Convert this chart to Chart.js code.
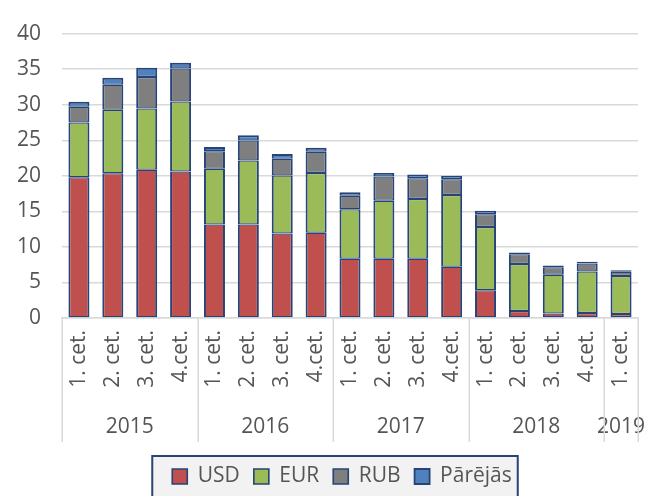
<!DOCTYPE html>
<html>
<head>
<meta charset="utf-8">
<script src="https://cdn.jsdelivr.net/npm/chart.js@4"></script>
<style>
  html, body { margin: 0; padding: 0; background: #ffffff; }
  #wrap { width: 659px; height: 496px; position: relative; }
</style>
</head>
<body>
<div id="wrap"><canvas id="c" width="659" height="496"></canvas></div>
<script>
// ---- data ----
const quarters = ["1. cet.", "2. cet.", "3. cet.", "4.cet.",
                  "1. cet.", "2. cet.", "3. cet.", "4.cet.",
                  "1. cet.", "2. cet.", "3. cet.", "4.cet.",
                  "1. cet.", "2. cet.", "3. cet.", "4.cet.",
                  "1. cet."];
const years = ["2015", "2016", "2017", "2018", "2019"];
const yearSizes = [4, 4, 4, 4, 1];
const usd    = [19.8, 20.35, 20.85, 20.6, 13.15, 13.15, 11.9, 12.0, 8.35, 8.35, 8.35, 7.2, 3.9, 1.0, 0.65, 0.7, 0.55];
const eur    = [7.7, 8.95, 8.6, 9.85, 7.85, 9.0, 8.15, 8.4, 6.95, 8.15, 8.4, 10.1, 8.9, 6.6, 5.45, 5.85, 5.35];
const rub    = [2.2, 3.5, 4.45, 4.65, 2.45, 2.8, 2.35, 3.0, 1.9, 3.4, 2.9, 2.2, 1.8, 1.35, 1.05, 1.1, 0.6];
const other  = [0.7, 1.0, 1.3, 0.8, 0.6, 0.75, 0.65, 0.55, 0.5, 0.5, 0.55, 0.5, 0.5, 0.25, 0.25, 0.25, 0.2];
const seriesNames = ["USD", "EUR", "RUB", "Pārējās"];
const yTicks = [0, 5, 10, 15, 20, 25, 30, 35, 40];

// ---- styles ----
const FONT = "'Open Sans', 'DejaVu Sans', sans-serif";
const FS = 21;
const TEXT = '#555555';
const GRID = '#d9d9d9';
const EDGE = '#264478';
const colors = ['#C0504D', '#9BBB59', '#7F7F7F', '#4F81BD'];
const seriesData = [usd, eur, rub, other];

const datasets = seriesData.map((d, i) => ({
  label: seriesNames[i],
  data: d,
  backgroundColor: colors[i],
  borderColor: EDGE,
  borderWidth: { left: 2, right: 2, top: i === 3 ? 2 : 1.25, bottom: 1.25 },
  borderSkipped: false,
  barPercentage: 0.62,
  categoryPercentage: 1.0
}));

const decorPlugin = {
  id: 'decor',
  afterLayout(chart) {
    const lg = chart.legend;
    if (lg) { lg.left += 23; lg.right += 23; }
  },
  beforeDraw(chart) {
    const ctx = chart.ctx;
    const lg = chart.legend;
    const hb = lg.legendHitBoxes;
    if (hb && hb.length) {
      const l = hb[0].left - 20;
      const r = hb[hb.length - 1].left + hb[hb.length - 1].width + 6;
      ctx.save();
      ctx.fillStyle = '#f2f2f2';
      ctx.fillRect(l, 456, r - l, 50);
      ctx.strokeStyle = EDGE;
      ctx.lineWidth = 2;
      ctx.strokeRect(l, 456, r - l, 50);
      ctx.restore();
    }
  },
  afterDraw(chart) {
    const ctx = chart.ctx;
    const xs = chart.scales.x;
    const top = chart.chartArea.bottom;
    const half = (xs.getPixelForValue(1) - xs.getPixelForValue(0)) / 2;
    ctx.save();
    ctx.strokeStyle = GRID;
    ctx.lineWidth = 1.5;
    let idx = 0;
    const bounds = [];
    yearSizes.forEach((n, k) => {
      const x0 = xs.getPixelForValue(idx) - half;
      const x1 = xs.getPixelForValue(idx + n - 1) + half;
      bounds.push(x0);
      if (k === yearSizes.length - 1) bounds.push(x1);
      ctx.fillStyle = TEXT;
      ctx.font = FS + "px " + FONT;
      ctx.textAlign = 'center';
      ctx.textBaseline = 'middle';
      ctx.fillText(years[k], (x0 + x1) / 2, 427);
      idx += n;
    });
    bounds.forEach(x => {
      ctx.beginPath();
      ctx.moveTo(Math.round(x) + 0.25, top);
      ctx.lineTo(Math.round(x) + 0.25, 442);
      ctx.stroke();
    });
    ctx.restore();
  }
};

new Chart(document.getElementById('c'), {
  type: 'bar',
  data: { labels: quarters, datasets },
  options: {
    responsive: false,
    animation: false,
    devicePixelRatio: 1,
    layout: { padding: { top: 12, right: 21, left: 0, bottom: -1 } },
    plugins: {
      legend: {
        position: 'bottom',
        labels: {
          color: TEXT,
          font: { family: FONT, size: FS },
          boxWidth: 15,
          boxHeight: 15,
          padding: 14
        }
      },
      tooltip: { enabled: false }
    },
    scales: {
      x: {
        stacked: true,
        grid: { display: false, drawTicks: false },
        border: { display: true, color: GRID, width: 1.5 },
        ticks: {
          color: TEXT,
          font: { family: FONT, size: FS },
          minRotation: 90,
          maxRotation: 90,
          autoSkip: false,
          padding: 12
        },
        afterFit(s) { s.height = 134; }
      },
      y: {
        stacked: true,
        min: 0,
        max: 40,
        afterBuildTicks(s) { s.ticks = yTicks.map(v => ({ value: v })); },
        grid: { color: GRID, lineWidth: 1.5, drawTicks: false },
        border: { display: false },
        ticks: {
          color: TEXT,
          font: { family: FONT, size: FS },
          padding: 21
        },
        afterFit(s) { s.width = 62; }
      }
    }
  },
  plugins: [decorPlugin]
});
</script>
</body>
</html>
